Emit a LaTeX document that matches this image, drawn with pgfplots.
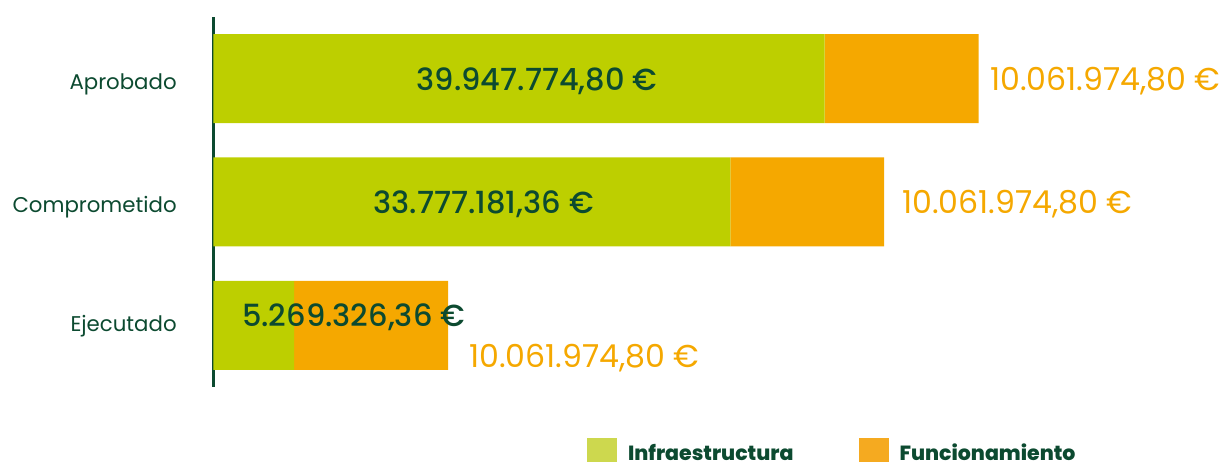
\documentclass[border=0pt]{standalone}
\usepackage{pgfplots}
\pgfplotsset{compat=1.18}
\usepackage{fontspec}
\setmainfont{Poppins}
\newfontfamily\pmed{Poppins Medium}
\newfontfamily\pxb{Poppins ExtraBold}
\definecolor{barG}{HTML}{BDCF00}
\definecolor{barO}{HTML}{F5A800}
\definecolor{legG}{HTML}{CDD84E}
\definecolor{legO}{HTML}{F5AA20}
\definecolor{dkgreen}{HTML}{0C4A30}
\begin{document}
\begin{tikzpicture}
\useasboundingbox (0,0) rectangle (1223pt,462pt);
\pgfplotsset{common/.style={
  scale only axis, width=994.5pt, height=370pt,
  xmin=0, xmax=65, ymin=-0.5, ymax=2.5,
  at={(213.5pt,75pt)}, anchor=south west, clip=false}}
\begin{axis}[common,
  xbar stacked, bar width=89pt,
  axis x line=none, axis y line=left,
  axis line style={-, line width=2.7pt, draw=dkgreen},
  xtick=\empty,
  ytick={0,1,2},
  yticklabels={\raisebox{5pt}{Ejecutado},Comprometido,Aprobado},
  ytick style={draw=none},
  yticklabel style={font=\fontsize{21.3}{25}\selectfont, text=dkgreen,
     anchor=base east, inner sep=0pt, xshift=-34.5pt, yshift=-11pt},
  legend columns=2,
  legend style={draw=none, fill=none, inner sep=0pt, outer sep=0pt,
     at={(0.3756,-0.1378)}, anchor=north west,
     font=\pxb\fontsize{20.5}{25}\selectfont, text=dkgreen,
     cells={anchor=base west}, nodes={inner sep=0pt},
     /tikz/every odd column/.append style={column sep=11pt},
     /tikz/every even column/.append style={column sep=65pt}},
]
\addplot[fill=barG, draw=none,
  legend image code/.code={\fill[legG] (0pt,-7pt) rectangle (30pt,23pt);}]
  coordinates {(5.26932636,0) (33.77718136,1) (39.9477748,2)};
\addlegendentry{Infraestructura}
\addplot[fill=barO, draw=none,
  legend image code/.code={\fill[legO] (0pt,-7pt) rectangle (30pt,23pt);}]
  coordinates {(10.0619748,0) (10.0619748,1) (10.0619748,2)};
\addlegendentry{Funcionamiento}
\end{axis}
\begin{axis}[common, hide axis]
\addplot[draw=none, mark=none, nodes near coords, point meta=explicit symbolic,
  every node near coord/.append style={anchor=base, inner sep=0pt,
     font=\pmed\fontsize{30.5}{34}\selectfont, text=dkgreen}]
  coordinates {(21.14,1.908) [39.947.774,80 €] (17.65,0.903) [33.777.181,36 €] (9.15,-0.0135) [5.269.326,36 €]};
\addplot[draw=none, mark=none, nodes near coords, point meta=explicit symbolic,
  every node near coord/.append style={anchor=base west, inner sep=0pt,
     font=\fontsize{31.6}{35}\selectfont, text=barO}]
  coordinates {(50.75,1.908) [10.061.974,80 €] (44.99,0.903) [10.061.974,80 €] (16.70,-0.338) [10.061.974,80 €]};
\end{axis}
\end{tikzpicture}
\end{document}
